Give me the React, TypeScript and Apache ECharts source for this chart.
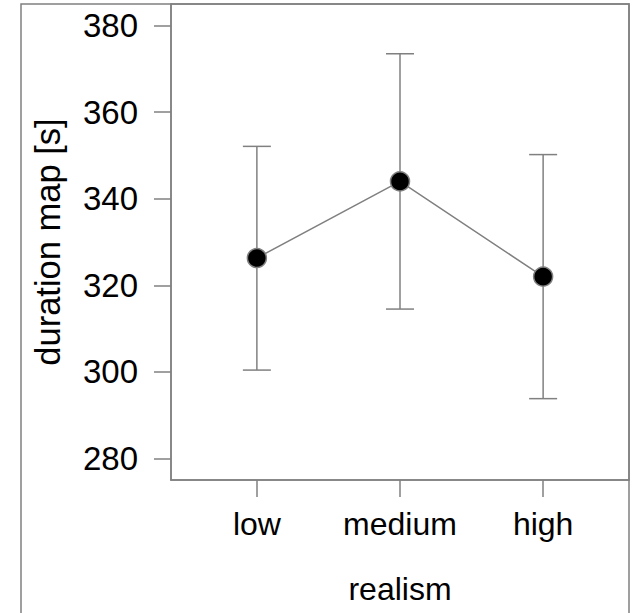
import React, { useEffect, useRef } from "react";
import * as echarts from "echarts";

const categories = ["low", "medium", "high"];
const means = [326.3, 344.0, 322.0];
const upper = [352.1, 373.5, 350.2];
const lower = [300.4, 314.5, 293.8];
const yTicks = [280, 300, 320, 340, 360, 380];

const GRAY = "#808080";

export default function App() {
  const ref = useRef<HTMLDivElement>(null);
  useEffect(() => {
    if (!ref.current) return;
    const chart = echarts.init(ref.current, undefined, { renderer: "svg" });
    const xs = categories.map((_, i) => i + 1);
    const font = "'Liberation Sans', Arial, sans-serif";
    chart.setOption({
      animation: false,
      backgroundColor: "#ffffff",
      grid: {
        left: 171,
        top: 4,
        width: 458,
        height: 476,
        show: true,
        borderColor: GRAY,
        borderWidth: 1.5,
        containLabel: false,
      },
      graphic: [
        {
          type: "rect",
          shape: { x: 21, y: 4, width: 608, height: 700 },
          style: { fill: "none", stroke: GRAY, lineWidth: 1.5 },
          silent: true,
          z: 100,
        },
      ],
      xAxis: {
        type: "value",
        min: 0.4,
        max: 3.6,
        splitLine: { show: false },
        axisLine: { show: true, lineStyle: { color: GRAY, width: 1.5 } },
        axisTick: {
          show: true,
          customValues: xs,
          length: 17,
          lineStyle: { color: GRAY, width: 1.5 },
        },
        axisLabel: {
          customValues: xs,
          formatter: (v: number) => categories[Math.round(v) - 1] ?? "",
          fontSize: 32,
          fontFamily: font,
          color: "#000",
          margin: 28,
        },
        name: "realism",
        nameLocation: "middle",
        nameGap: 93,
        nameTextStyle: { fontSize: 32, fontFamily: font, color: "#000" },
      },
      yAxis: {
        type: "value",
        min: 275,
        max: 385,
        splitLine: { show: false },
        axisLine: { show: true, lineStyle: { color: GRAY, width: 1.5 } },
        axisTick: {
          show: true,
          customValues: yTicks,
          length: 17,
          lineStyle: { color: GRAY, width: 1.5 },
        },
        axisLabel: {
          customValues: yTicks,
          fontSize: 33,
          fontFamily: font,
          color: "#000",
          margin: 33,
        },
        name: "duration map [s]",
        nameLocation: "middle",
        nameGap: 106,
        nameTextStyle: { fontSize: 34.5, fontFamily: font, color: "#000" },
      },
      series: [
        {
          type: "custom",
          data: xs.map((x, i) => [x, lower[i], upper[i]]),
          renderItem: (params: any, api: any) => {
            const x = api.value(0);
            const lo = api.coord([x, api.value(1)]);
            const hi = api.coord([x, api.value(2)]);
            const hw = 14;
            const style = { stroke: GRAY, lineWidth: 1.5, fill: "none" };
            return {
              type: "group",
              children: [
                { type: "line", shape: { x1: lo[0], y1: lo[1], x2: hi[0], y2: hi[1] }, style },
                { type: "line", shape: { x1: lo[0] - hw, y1: lo[1], x2: lo[0] + hw, y2: lo[1] }, style },
                { type: "line", shape: { x1: hi[0] - hw, y1: hi[1], x2: hi[0] + hw, y2: hi[1] }, style },
              ],
            };
          },
          z: 1,
        },
        {
          type: "line",
          data: xs.map((x, i) => [x, means[i]]),
          symbol: "circle",
          symbolSize: 19,
          lineStyle: { color: GRAY, width: 1.5 },
          itemStyle: { color: "#000", borderColor: GRAY, borderWidth: 1.5 },
          z: 3,
        },
      ],
    });
    return () => chart.dispose();
  }, []);
  return (
    <div
      ref={ref}
      style={{ position: "fixed", left: 0, top: 0, width: 636, height: 613 }}
    />
  );
}
